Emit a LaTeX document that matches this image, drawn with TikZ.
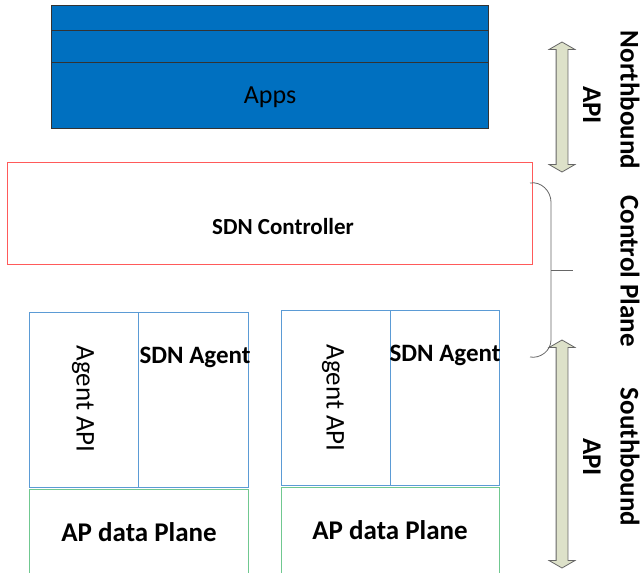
\documentclass[tikz,border=0pt]{standalone}
\usepackage{fontspec}
\setmainfont{Carlito}
\usetikzlibrary{shapes.arrows}

\definecolor{appblue}{HTML}{0070C0}
\definecolor{ctrlred}{HTML}{FF5A5A}
\definecolor{agentblue}{HTML}{5B9BD5}
\definecolor{planegreen}{HTML}{70C890}
\definecolor{apifill}{HTML}{DDE1C9}

\tikzset{
	appsbox/.style={draw=black!80, fill=appblue, line width=0.8},
	ctrlbox/.style={draw=ctrlred, line width=0.8},
	agentbox/.style={draw=agentblue, line width=0.8},
	planebox/.style={draw=planegreen, line width=0.8},
	apiarrow/.style={double arrow, draw=gray!80!black, fill=apifill, rotate=90,
		inner sep=0, double arrow head extend=7,
		double arrow tip angle=120, line width=0.8},
	sidelabel/.style={font=\bfseries\fontsize{27}{28}\selectfont, rotate=-90, inner sep=0},
	boxlabel/.style={font=\bfseries\fontsize{23}{24}\selectfont, inner sep=0},
	agentlabel/.style={font=\bfseries\fontsize{25}{26}\selectfont, inner sep=0},
	planelabel/.style={font=\bfseries\fontsize{27}{28}\selectfont, inner sep=0},
	apilabel/.style={font=\fontsize{27}{28}\selectfont, rotate=-90, inner sep=0},
}

\begin{document}
\begin{tikzpicture}[x=1pt, y=-1pt]
	\useasboundingbox (0,0) rectangle (641,573);

	% apps stack
	\draw[appsbox] (51,5) rectangle (488,30);
	\draw[appsbox] (51,30) rectangle (488,62);
	\draw[appsbox] (51,62) rectangle (488,128);
	\node[font=\fontsize{26}{28}\selectfont, inner sep=0] (apps) at (270,97) {Apps};

	% controller
	\draw[ctrlbox] (7,162) rectangle (532,264);
	\node[boxlabel] (ctrl) at (283,227) {SDN Controller};

	% left access point
	\draw[agentbox] (29,312) rectangle (248,487);
	\draw[agentbox] (138,312) -- (138,487);
	\draw[planebox] (29,489) rectangle (248,580);
	\node[apilabel] (apiA) at (83,399) {Agent API};
	\node[agentlabel] (agentA) at (195,357) {SDN Agent};
	\node[planelabel] (planeA) at (139,532) {AP data Plane};

	% right access point
	\draw[agentbox] (281,310) rectangle (499,485);
	\draw[agentbox] (390,310) -- (390,485);
	\draw[planebox] (281,487) rectangle (499,580);
	\node[apilabel] (apiB) at (333,398) {Agent API};
	\node[agentlabel] (agentB) at (445,355) {SDN Agent};
	\node[planelabel] (planeB) at (390,530) {AP data Plane};

	% interfaces
	\node[apiarrow, minimum height=130] (north) at (562,107) {\rule{0pt}{11pt}};
	\node[apiarrow, minimum height=228] (south) at (562,454) {\rule{0pt}{11pt}};
	\draw[gray!80!black, line width=0.8]
		(530,183) to[out=10, in=90] (551,202) -- (551,340) to[out=-90, in=-10] (530,357);
	\draw[gray!80!black, line width=0.8] (551,270) -- (573,270);

	% labels
	\node[sidelabel] (nlab) at (630,100) {Northbound};
	\node[sidelabel] (napi) at (592,105) {API};
	\node[sidelabel] (clab) at (630,271) {Control Plane};
	\node[sidelabel] (slab) at (630,457) {Southbound};
	\node[sidelabel] (sapi) at (592,457) {API};
\end{tikzpicture}
\end{document}
